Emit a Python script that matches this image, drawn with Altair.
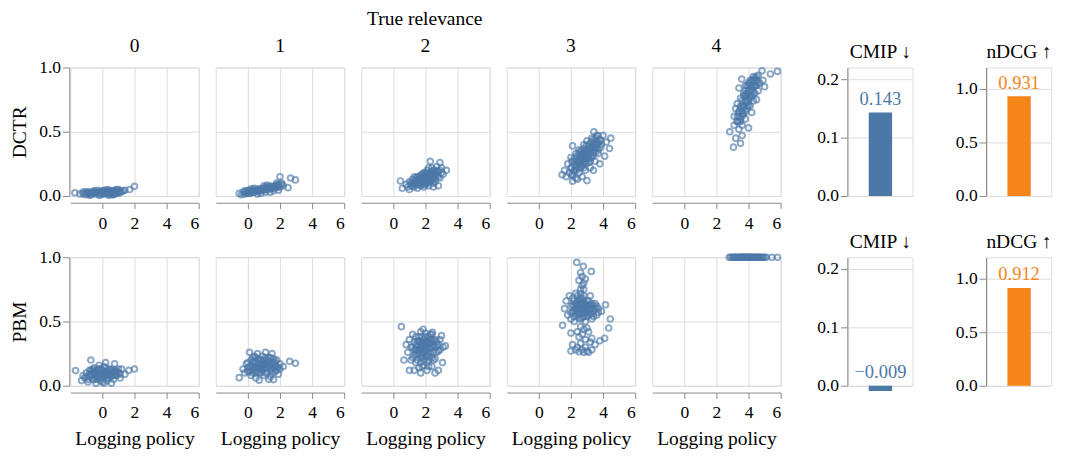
import altair as alt
import pandas as pd

FONT = "Liberation Serif, DejaVu Sans, DejaVu Serif"
BLUE = "#4c78a8"
ORANGE = "#f58518"

relevance_labels = ["0", "1", "2", "3", "4"]
models = ["DCTR", "PBM"]

# (logging policy score, click model value)
dctr_0 = [(-1.71, 0.025), (-1.4, 0.015), (-1.2, 0.02), (-1.1, 0.01), (-1.0, 0.025), (-0.9, 0.015),
          (-0.8, 0.03), (-0.7, 0.01), (-0.6, 0.02), (-0.5, 0.03), (-0.4, 0.015), (-0.3, 0.025),
          (-0.2, 0.035), (-0.1, 0.01), (0.0, 0.02), (0.1, 0.03), (0.2, 0.04), (0.3, 0.015),
          (0.4, 0.025), (0.5, 0.035), (0.6, 0.02), (0.7, 0.04), (0.8, 0.03), (0.9, 0.045),
          (1.0, 0.025), (1.1, 0.04), (1.2, 0.035), (1.4, 0.045), (1.7, 0.05), (2.0, 0.075),
          (-0.8, 0.005), (-0.5, 0.04), (-0.2, 0.005), (0.1, 0.045), (0.4, 0.005), (0.7, 0.01),
          (1.0, 0.05), (-1.0, 0.035), (-0.3, 0.03), (0.3, 0.05), (0.6, 0.01), (0.9, 0.02),
          (-0.9, 0.02), (-0.6, 0.035), (-0.4, 0.025), (-0.1, 0.03), (0.0, 0.04), (0.2, 0.02),
          (0.3, 0.035), (0.5, 0.015), (0.6, 0.04), (0.8, 0.02), (1.1, 0.025), (-0.7, 0.025),
          (0.05, 0.015), (0.45, 0.045), (0.85, 0.05), (-1.2, 0.03), (1.3, 0.04), (-0.3, 0.045)]
dctr_1 = [(-0.54, 0.02), (-0.4, 0.01), (-0.3, 0.03), (-0.2, 0.015), (-0.1, 0.035), (0.0, 0.02),
          (0.1, 0.04), (0.2, 0.025), (0.3, 0.045), (0.4, 0.03), (0.5, 0.05), (0.6, 0.035),
          (0.7, 0.055), (0.8, 0.04), (0.9, 0.06), (1.0, 0.045), (1.1, 0.065), (1.2, 0.05),
          (1.3, 0.07), (1.4, 0.055), (1.5, 0.075), (1.6, 0.06), (1.7, 0.08), (1.8, 0.065),
          (1.9, 0.09), (2.0, 0.07), (2.1, 0.1), (2.0, 0.15), (2.66, 0.14), (2.96, 0.125),
          (2.5, 0.065), (0.2, 0.055), (0.6, 0.015), (1.0, 0.08), (1.4, 0.03), (1.8, 0.1),
          (0.0, 0.045), (0.4, 0.06), (0.8, 0.02), (1.2, 0.085), (1.6, 0.04), (-0.2, 0.04),
          (2.2, 0.08), (1.9, 0.045), (1.1, 0.03),
          (0.1, 0.02), (0.3, 0.03), (0.5, 0.035), (0.7, 0.04), (0.9, 0.05), (1.1, 0.05),
          (1.3, 0.06), (1.5, 0.06), (1.7, 0.07), (1.9, 0.075), (0.6, 0.05), (1.0, 0.06),
          (1.4, 0.075), (1.8, 0.085), (2.1, 0.09), (0.2, 0.04), (-0.1, 0.025), (1.2, 0.07)]
dctr_2 = [(0.44, 0.117), (0.56, 0.06), (0.8, 0.09), (0.9, 0.07), (1.0, 0.05), (1.0, 0.11),
          (1.1, 0.08), (1.2, 0.1), (1.2, 0.13), (1.3, 0.07), (1.4, 0.09), (1.4, 0.12),
          (1.5, 0.15), (1.5, 0.06), (1.6, 0.1), (1.6, 0.13), (1.7, 0.08), (1.7, 0.16),
          (1.8, 0.11), (1.8, 0.14), (1.9, 0.07), (1.9, 0.18), (2.0, 0.1), (2.0, 0.13),
          (2.0, 0.16), (2.1, 0.12), (2.1, 0.2), (2.2, 0.08), (2.2, 0.15), (2.3, 0.11),
          (2.3, 0.18), (2.3, 0.27), (2.4, 0.14), (2.4, 0.22), (2.5, 0.1), (2.5, 0.17),
          (2.6, 0.2), (2.6, 0.13), (2.7, 0.16), (2.7, 0.23), (2.8, 0.19), (2.9, 0.26),
          (2.9, 0.14), (3.0, 0.22), (3.1, 0.17), (3.3, 0.2), (1.3, 0.15), (2.8, 0.08),
          (2.5, 0.07),
          (1.5, 0.12), (1.6, 0.11), (1.7, 0.12), (1.8, 0.125), (1.9, 0.13), (2.0, 0.14),
          (2.1, 0.15), (2.2, 0.13), (2.3, 0.15), (2.4, 0.17), (1.7, 0.14), (1.9, 0.11),
          (2.1, 0.1), (2.5, 0.14), (2.6, 0.16), (1.4, 0.105), (2.0, 0.115), (2.2, 0.17),
          (1.2, 0.08), (1.3, 0.1), (1.4, 0.14), (1.5, 0.09), (1.6, 0.15), (1.7, 0.1),
          (1.8, 0.09), (1.8, 0.17), (1.9, 0.15), (2.0, 0.085), (2.0, 0.18), (2.1, 0.17),
          (2.2, 0.11), (2.3, 0.13), (2.4, 0.19), (2.4, 0.12), (2.5, 0.2), (2.6, 0.18),
          (2.7, 0.19), (2.8, 0.15), (2.9, 0.2), (3.0, 0.18), (1.1, 0.1), (2.2, 0.22),
          (2.6, 0.11)]
dctr_3 = [(1.45, 0.165), (1.6, 0.2), (1.7, 0.15), (1.8, 0.25), (1.9, 0.18), (2.0, 0.22),
          (2.0, 0.3), (2.1, 0.115), (2.1, 0.39), (2.1, 0.16), (2.2, 0.27), (2.2, 0.2),
          (2.3, 0.33), (2.3, 0.14), (2.4, 0.24), (2.4, 0.3), (2.5, 0.18), (2.5, 0.36),
          (2.6, 0.27), (2.6, 0.22), (2.7, 0.32), (2.7, 0.15), (2.8, 0.4), (2.8, 0.26),
          (2.9, 0.3), (2.9, 0.2), (3.0, 0.12), (3.0, 0.36), (3.0, 0.43), (3.1, 0.26),
          (3.1, 0.32), (3.2, 0.38), (3.2, 0.22), (3.3, 0.45), (3.3, 0.3), (3.4, 0.35),
          (3.43, 0.5), (3.5, 0.42), (3.5, 0.27), (3.6, 0.47), (3.6, 0.38), (3.7, 0.33),
          (3.8, 0.44), (3.8, 0.25), (3.9, 0.4), (4.0, 0.47), (4.1, 0.31), (4.2, 0.42),
          (4.4, 0.37), (4.48, 0.45), (2.4, 0.13), (3.4, 0.2),
          (2.5, 0.28), (2.6, 0.31), (2.7, 0.28), (2.8, 0.33), (2.9, 0.35), (3.0, 0.29),
          (3.1, 0.36), (3.2, 0.33), (3.3, 0.38), (3.4, 0.4), (2.4, 0.27), (2.3, 0.22),
          (2.7, 0.24), (2.9, 0.25), (3.5, 0.37), (3.0, 0.33), (3.2, 0.27), (2.6, 0.35),
          (3.6, 0.42), (3.7, 0.4),
          (2.05, 0.17), (2.05, 0.22), (2.05, 0.27), (2.2, 0.19), (2.2, 0.24), (2.2, 0.29),
          (2.35, 0.2), (2.35, 0.26), (2.35, 0.31), (2.5, 0.22), (2.5, 0.27), (2.5, 0.33),
          (2.65, 0.24), (2.65, 0.29), (2.65, 0.35), (2.8, 0.22), (2.8, 0.3), (2.8, 0.37),
          (2.95, 0.27), (2.95, 0.32), (2.95, 0.39), (3.1, 0.29), (3.1, 0.34), (3.1, 0.4),
          (3.25, 0.31), (3.25, 0.36), (3.25, 0.42), (3.4, 0.32), (3.4, 0.38), (3.4, 0.44),
          (3.55, 0.34), (3.55, 0.4), (3.55, 0.45), (3.7, 0.36), (3.7, 0.42), (3.7, 0.47),
          (3.85, 0.38), (3.85, 0.43)]
dctr_4 = [(2.83, 0.5), (3.06, 0.38), (3.5, 0.41), (3.6, 0.47), (3.2, 0.45), (3.1, 0.55),
          (3.1, 0.62), (3.2, 0.68), (3.3, 0.58), (3.3, 0.72), (3.4, 0.52), (3.4, 0.65),
          (3.5, 0.6), (3.5, 0.76), (3.58, 0.91), (3.6, 0.7), (3.6, 0.55), (3.7, 0.8),
          (3.7, 0.64), (3.8, 0.74), (3.8, 0.86), (3.9, 0.68), (3.9, 0.8), (4.0, 0.53),
          (4.0, 0.76), (4.0, 0.88), (4.1, 0.7), (4.1, 0.82), (4.2, 0.78), (4.2, 0.9),
          (4.3, 0.74), (4.3, 0.85), (4.4, 0.8), (4.4, 0.92), (4.5, 0.86), (4.6, 0.82),
          (4.6, 0.94), (4.7, 0.88), (4.84, 0.975), (4.9, 0.9), (5.0, 0.85), (5.36, 0.95),
          (5.8, 0.97), (3.8, 0.6), (4.2, 0.65), (3.4, 0.84), (4.5, 0.75),
          (3.9, 0.74), (4.0, 0.7), (4.0, 0.82), (4.1, 0.76), (4.2, 0.84), (4.3, 0.8),
          (3.8, 0.78), (3.7, 0.7), (3.6, 0.64), (3.5, 0.68), (4.4, 0.86), (4.5, 0.9),
          (4.1, 0.88), (3.9, 0.86), (4.3, 0.9), (3.3, 0.62), (3.4, 0.58), (4.6, 0.88),
          (3.3, 0.58), (3.5, 0.58), (3.4, 0.62), (3.6, 0.62), (3.4, 0.66), (3.6, 0.66),
          (3.8, 0.66), (3.5, 0.7), (3.7, 0.7), (3.9, 0.7), (3.6, 0.74), (3.8, 0.74),
          (4.0, 0.74), (3.7, 0.78), (3.9, 0.78), (4.1, 0.78), (3.8, 0.82), (4.0, 0.82),
          (4.2, 0.82), (4.0, 0.86), (4.2, 0.86), (4.4, 0.86), (4.1, 0.9), (4.3, 0.9),
          (4.5, 0.9), (4.3, 0.93), (4.5, 0.93)]
pbm_0 = [(-1.67, 0.118), (-1.3, 0.04), (-1.2, 0.08), (-1.1, 0.06), (-1.0, 0.1), (-0.9, 0.03),
         (-0.8, 0.07), (-0.72, 0.2), (-0.7, 0.12), (-0.6, 0.05), (-0.5, 0.09), (-0.5, 0.14),
         (-0.4, 0.02), (-0.3, 0.11), (-0.3, 0.07), (-0.2, 0.16), (-0.1, 0.04), (-0.1, 0.09),
         (0.0, 0.12), (0.0, 0.06), (0.1, 0.02), (0.1, 0.15), (0.2, 0.08), (0.3, 0.11),
         (0.3, 0.04), (0.4, 0.13), (0.5, 0.07), (0.56, 0.02), (0.6, 0.1), (0.7, 0.05),
         (0.76, 0.17), (0.8, 0.12), (0.9, 0.08), (1.0, 0.1), (1.1, 0.06), (1.2, 0.13),
         (1.4, 0.09), (1.65, 0.12), (2.0, 0.13), (-0.8, 0.12), (0.2, 0.18), (-0.4, 0.06),
         (-0.6, 0.1), (-0.4, 0.08), (-0.2, 0.1), (0.0, 0.09), (0.2, 0.11), (0.4, 0.09),
         (0.6, 0.08), (0.8, 0.09), (-0.8, 0.09), (-0.3, 0.13), (0.1, 0.07), (0.5, 0.12),
         (-0.1, 0.13), (0.3, 0.06), (0.7, 0.11), (-0.5, 0.05), (1.0, 0.13), (-1.0, 0.07),
         (-0.9, 0.05), (-0.7, 0.09), (-0.6, 0.13), (-0.5, 0.11), (-0.3, 0.05), (-0.2, 0.08),
         (-0.2, 0.13), (0.0, 0.03), (0.1, 0.1), (0.2, 0.14), (0.3, 0.09), (0.4, 0.06),
         (0.5, 0.1), (0.6, 0.13), (0.7, 0.08), (0.9, 0.11), (1.1, 0.09), (-0.1, 0.06),
         (0.4, 0.11), (-0.4, 0.11)]
pbm_1 = [(-0.54, 0.063), (-0.3, 0.13), (-0.2, 0.1), (-0.1, 0.17), (0.0, 0.14), (0.1, 0.26),
         (0.1, 0.11), (0.2, 0.2), (0.2, 0.08), (0.3, 0.15), (0.4, 0.23), (0.4, 0.12),
         (0.5, 0.18), (0.5, 0.06), (0.6, 0.14), (0.6, 0.25), (0.7, 0.043), (0.7, 0.1),
         (0.8, 0.2), (0.8, 0.16), (0.9, 0.12), (0.9, 0.23), (1.0, 0.08), (1.0, 0.17),
         (1.1, 0.26), (1.1, 0.14), (1.2, 0.2), (1.2, 0.1), (1.3, 0.15), (1.4, 0.22),
         (1.4, 0.07), (1.5, 0.25), (1.5, 0.13), (1.6, 0.048), (1.6, 0.18), (1.7, 0.11),
         (1.8, 0.2), (1.8, 0.15), (1.9, 0.09), (2.0, 0.17), (2.2, 0.15), (2.6, 0.19),
         (2.96, 0.175), (0.3, 0.22), (1.3, 0.05),
         (0.3, 0.18), (0.5, 0.15), (0.7, 0.17), (0.9, 0.18), (1.1, 0.17), (1.3, 0.19),
         (1.5, 0.17), (1.7, 0.16), (0.4, 0.14), (0.8, 0.13), (1.2, 0.14), (1.6, 0.14),
         (1.0, 0.2), (0.6, 0.2), (1.4, 0.12), (0.2, 0.15), (1.9, 0.14), (0.0, 0.11),
         (0.0, 0.18), (0.1, 0.15), (0.2, 0.12), (0.3, 0.1), (0.4, 0.19), (0.5, 0.22),
         (0.6, 0.11), (0.7, 0.14), (0.7, 0.21), (0.8, 0.1), (0.9, 0.15), (1.0, 0.13),
         (1.1, 0.1), (1.2, 0.17), (1.3, 0.22), (1.4, 0.16), (1.5, 0.1), (1.6, 0.21),
         (1.7, 0.19), (1.8, 0.12), (2.0, 0.13), (1.1, 0.22), (0.5, 0.1)]
pbm_2 = [(0.5, 0.46), (0.66, 0.2), (0.8, 0.32), (0.9, 0.26), (1.0, 0.12), (1.0, 0.36),
         (1.1, 0.3), (1.2, 0.22), (1.2, 0.4), (1.3, 0.28), (1.3, 0.34), (1.4, 0.18),
         (1.4, 0.38), (1.5, 0.25), (1.5, 0.31), (1.6, 0.14), (1.6, 0.35), (1.7, 0.1),
         (1.7, 0.28), (1.7, 0.42), (1.8, 0.22), (1.8, 0.33), (1.86, 0.44), (1.9, 0.26),
         (1.9, 0.16), (2.0, 0.3), (2.0, 0.38), (2.1, 0.12), (2.1, 0.24), (2.2, 0.34),
         (2.2, 0.2), (2.3, 0.29), (2.3, 0.4), (2.44, 0.415), (2.4, 0.15), (2.5, 0.26),
         (2.5, 0.35), (2.6, 0.21), (2.7, 0.31), (2.8, 0.12), (2.8, 0.27), (2.9, 0.36),
         (3.0, 0.39), (3.06, 0.18), (3.1, 0.3), (3.24, 0.31), (1.3, 0.12), (2.6, 0.1),
         (1.1, 0.2),
         (1.5, 0.28), (1.6, 0.3), (1.7, 0.32), (1.8, 0.29), (1.9, 0.31), (2.0, 0.27),
         (2.1, 0.29), (2.2, 0.3), (2.3, 0.33), (2.4, 0.3), (1.6, 0.25), (1.8, 0.26),
         (2.0, 0.34), (2.2, 0.26), (2.4, 0.36), (1.4, 0.32), (1.9, 0.36), (2.6, 0.3),
         (2.1, 0.35), (1.7, 0.22),
         (1.2, 0.3), (1.3, 0.24), (1.4, 0.28), (1.5, 0.35), (1.5, 0.2), (1.6, 0.27),
         (1.7, 0.34), (1.7, 0.18), (1.8, 0.38), (1.8, 0.24), (1.9, 0.2), (1.9, 0.33),
         (2.0, 0.23), (2.0, 0.41), (2.1, 0.32), (2.1, 0.18), (2.2, 0.38), (2.2, 0.23),
         (2.3, 0.25), (2.3, 0.36), (2.4, 0.22), (2.5, 0.31), (2.5, 0.2), (2.6, 0.36),
         (2.7, 0.26), (2.7, 0.34), (2.8, 0.32), (1.6, 0.38), (2.4, 0.4), (1.4, 0.24),
         (2.9, 0.28), (1.8, 0.15), (2.2, 0.15)]
pbm_3 = [(2.36, 0.96), (2.77, 0.93), (3.27, 0.89), (2.5, 0.82), (2.9, 0.83), (2.7, 0.78),
         (2.6, 0.75), (1.48, 0.47), (1.6, 0.6), (1.7, 0.66), (1.8, 0.55), (1.9, 0.7),
         (2.0, 0.62), (2.0, 0.52), (2.1, 0.68), (2.2, 0.58), (2.2, 0.5), (2.3, 0.64),
         (2.3, 0.72), (2.4, 0.55), (2.5, 0.6), (2.5, 0.67), (2.6, 0.52), (2.7, 0.63),
         (2.8, 0.57), (2.8, 0.7), (2.9, 0.5), (3.0, 0.62), (3.0, 0.66), (3.1, 0.55),
         (3.2, 0.6), (3.2, 0.7), (3.3, 0.52), (3.4, 0.58), (3.5, 0.64), (3.6, 0.55),
         (3.7, 0.6), (3.9, 0.58), (4.15, 0.63), (4.45, 0.52), (4.35, 0.45), (2.0, 0.27),
         (2.5, 0.265), (3.1, 0.26), (2.1, 0.32), (3.5, 0.32), (4.1, 0.37), (3.3, 0.37),
         (2.0, 0.41), (2.6, 0.33), (2.9, 0.3), (2.4, 0.42), (3.0, 0.45), (2.7, 0.4),
         (3.8, 0.35), (2.3, 0.28), (2.8, 0.26),
         (2.3, 0.6), (2.4, 0.62), (2.5, 0.57), (2.6, 0.6), (2.7, 0.58), (2.8, 0.62),
         (2.9, 0.6), (3.0, 0.58), (3.1, 0.62), (3.2, 0.56), (2.4, 0.66), (2.6, 0.68),
         (2.8, 0.66), (3.0, 0.54), (3.3, 0.6), (2.2, 0.62), (2.7, 0.53), (3.4, 0.62),
         (2.1, 0.57), (2.6, 0.63),
         (2.0, 0.57), (2.1, 0.63), (2.2, 0.54), (2.2, 0.66), (2.3, 0.56), (2.4, 0.59),
         (2.4, 0.7), (2.5, 0.63), (2.5, 0.53), (2.6, 0.56), (2.6, 0.65), (2.7, 0.6),
         (2.7, 0.68), (2.8, 0.54), (2.8, 0.6), (2.9, 0.64), (2.9, 0.56), (3.0, 0.6),
         (3.1, 0.58), (3.1, 0.66), (3.2, 0.63), (3.3, 0.56), (3.3, 0.64), (3.4, 0.54),
         (3.5, 0.6), (3.6, 0.62), (3.7, 0.57), (2.6, 0.72), (2.8, 0.75), (2.7, 0.85),
         (2.6, 0.88), (2.8, 0.8), (2.6, 0.46), (2.8, 0.44), (3.1, 0.42), (2.5, 0.38),
         (3.2, 0.34), (2.9, 0.36), (2.4, 0.3), (3.3, 0.28), (2.7, 0.28), (3.0, 0.27)]
pbm_4 = [(2.8, 1.0), (2.9, 1.0), (3.0, 1.0), (3.1, 1.0), (3.2, 1.0), (3.3, 1.0), (3.4, 1.0),
         (3.5, 1.0), (3.6, 1.0), (3.7, 1.0), (3.8, 1.0), (3.9, 1.0), (4.0, 1.0), (4.1, 1.0),
         (4.2, 1.0), (4.3, 1.0), (4.4, 1.0), (4.5, 1.0), (4.6, 1.0), (4.7, 1.0), (4.8, 1.0),
         (4.9, 1.0), (5.0, 1.0), (5.1, 1.0), (5.45, 1.0), (5.8, 1.0), (3.05, 1.0),
         (3.35, 1.0), (3.65, 1.0), (3.95, 1.0), (4.25, 1.0), (4.55, 1.0),
         (3.15, 1.0), (3.45, 1.0), (3.75, 1.0), (4.05, 1.0), (4.35, 1.0), (4.65, 1.0),
         (4.85, 1.0), (3.55, 1.0), (3.85, 1.0), (4.15, 1.0)]

panels = {"DCTR": [dctr_0, dctr_1, dctr_2, dctr_3, dctr_4],
          "PBM": [pbm_0, pbm_1, pbm_2, pbm_3, pbm_4]}

cmip_values = {"DCTR": 0.143, "PBM": -0.009}
ndcg_values = {"DCTR": 0.931, "PBM": 0.912}

x_ticks = [0, 2, 4, 6]
y_ticks = [0, 0.5, 1]
cmip_ticks = [0, 0.1, 0.2]
ndcg_ticks = [0, 0.5, 1]

W = 132
H = 132
BW = 66
LABEL = dict(labelFont=FONT, labelFontSize=18, labelColor="black",
             titleFont=FONT, titleFontSize=20, titleColor="black", titleFontWeight="normal",
             domainColor="#888", tickColor="#888", gridColor="#ddd")


def chart_title(text, offset):
    return alt.Title(text, frame="group", offset=offset, fontSize=20,
                     font=FONT, fontWeight="normal", color="black")


def scatter(points, model, col, bottom):
    df = pd.DataFrame(points, columns=["logging", "value"])
    x_axis = alt.Axis(values=x_ticks, title="Logging policy" if bottom else None,
                      offset=7, tickSize=6, labelPadding=6, titlePadding=7, **LABEL)
    if col == 0:
        y_axis = alt.Axis(values=y_ticks, format=".1f", title=model, offset=1,
                          tickSize=7, labelPadding=2, titlePadding=9, **LABEL)
    else:
        # labels kept invisible inside the panel so every panel has the same extent
        y_axis = alt.Axis(values=y_ticks, format=".1f", labelOpacity=0, ticks=False,
                          domain=False, labelPadding=-45, title=None, minExtent=0, **LABEL)
    props = dict(width=W, height=H)
    if not bottom:
        props["title"] = chart_title(relevance_labels[col], 3)
    return alt.Chart(df).mark_point(filled=False, size=34, strokeWidth=2,
                                    opacity=0.64, color=BLUE).encode(
        x=alt.X("logging:Q", scale=alt.Scale(domain=[-2, 6], nice=False, zero=False),
                axis=x_axis),
        y=alt.Y("value:Q", scale=alt.Scale(domain=[0, 1], nice=False), axis=y_axis),
    ).properties(**props)


def bar(value, name, color, domain, ticks, min_extent):
    df = pd.DataFrame({"metric": [name], "value": [value]})
    df["label_pos"] = df["value"].clip(lower=0)
    base = alt.Chart(df).encode(x=alt.X("metric:N", axis=None))
    bars = base.mark_bar(size=24, color=color).encode(
        y=alt.Y("value:Q", scale=alt.Scale(domain=domain, nice=False, zero=False),
                axis=alt.Axis(values=ticks, format=".1f", title=None, offset=1,
                              tickSize=7, labelPadding=2, minExtent=min_extent, **LABEL))
    )
    text = base.mark_text(baseline="alphabetic", dy=-8, font=FONT, fontSize=19,
                          color=color).encode(
        y=alt.Y("label_pos:Q"),
        text=alt.Text("value:Q", format=".3f"),
    )
    return alt.layer(bars, text).properties(width=BW, height=H,
                                            title=chart_title(name, 6))


rows = []
for r, model in enumerate(models):
    bottom = r == 1
    charts = [scatter(panels[model][c], model, c, bottom) for c in range(5)]
    charts.append(bar(cmip_values[model], "CMIP \u2193", BLUE, [0, 0.22], cmip_ticks, 47.5))
    charts.append(bar(ndcg_values[model], "nDCG \u2191", ORANGE, [0, 1.2], ndcg_ticks, 58.5))
    rows.append(alt.hconcat(*charts, spacing=15.5))

chart = alt.vconcat(*rows, spacing=-2).properties(
    title=alt.Title("True relevance", anchor="start", dx=367, offset=7, fontSize=20,
                    font=FONT, fontWeight="normal", color="black"),
    padding={"left": 2, "top": -5, "right": 5, "bottom": 0},
).configure_view(stroke="#ddd")

chart.save("out.html", embed_options={"renderer": "svg", "actions": False})
